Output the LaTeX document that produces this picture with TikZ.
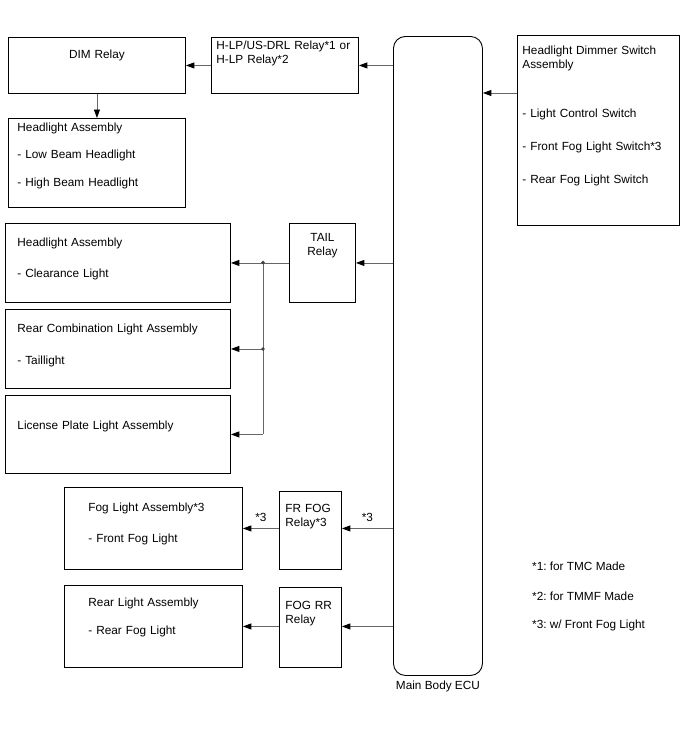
\documentclass[tikz,border=0pt]{standalone}
\usepackage{fontspec}
\setmainfont{Liberation Sans}
\usepackage{tikz}
\usetikzlibrary{arrows.meta,positioning,calc}
\frenchspacing

\begin{document}
\begin{tikzpicture}[
        x=1pt, y=-1pt,
        every node/.style={font=\fontsize{11.8}{14}\selectfont},
        blk/.style={draw, line width=0.9pt, anchor=north west, inner ysep=0pt, align=left},
        relay/.style={blk, inner xsep=0pt, align=center},
        arr/.style={draw=black!60, line width=0.9pt, -{Triangle[length=8.5pt, width=6pt, color=black]}},
        wire/.style={draw=black!60, line width=0.9pt},
        dot/.style={circle, fill=black!75, inner sep=0pt, minimum size=3.6pt},
        note/.style={anchor=west, inner sep=0pt}
    ]
        \useasboundingbox (0,0) rectangle (688,755);

        % ECU and switch
        \node[draw, line width=0.9pt, rounded corners=12pt, anchor=north west,
              minimum width=89pt, minimum height=639pt] (ecu) at (393,36) {};
        \node[below=2pt of ecu] (ecuname) {Main Body ECU};
        \node[blk, inner xsep=5pt, text width=152pt, text height=19pt, text depth=171pt] (sw) at (517,35)
            {Headlight Dimmer Switch\\Assembly\\[35pt]- Light Control Switch\\[19pt]- Front Fog Light Switch*3\\[19pt]- Rear Fog Light Switch};

        % head light
        \node[relay, text width=177pt, text height=21pt, text depth=35pt] (dim) at (8,37) {DIM Relay};
        \node[blk, inner xsep=5pt, text width=137pt, text height=12pt, text depth=44pt] (hlp) at (211,37)
            {H-LP/US-DRL Relay*1 or\\H-LP Relay*2};
        \node[blk, inner xsep=9pt, text width=159pt, text height=13pt, text depth=76pt] (ha1) at (8,118)
            {Headlight Assembly\\[13.5pt]- Low Beam Headlight\\[13.5pt]- High Beam Headlight};

        % tail light
        \node[relay, text width=66pt, text height=18pt, text depth=61pt] (tail) at (289,223) {TAIL\\Relay};
        \node[blk, inner xsep=12pt, text width=201pt, text height=23pt, text depth=56pt] (ha2) at (5,223)
            {Headlight Assembly\\[17pt]- Clearance Light};
        \node[blk, inner xsep=12pt, text width=201pt, text height=23pt, text depth=56pt] (rcl) at (5,309)
            {Rear Combination Light Assembly\\[18pt]- Taillight};
        \node[blk, inner xsep=12pt, text width=201pt, text height=34pt, text depth=44pt] (lic) at (5,395)
            {License Plate Light Assembly};

        % fog light
        \node[blk, inner xsep=24pt, text width=130pt, text height=24pt, text depth=58pt] (fog) at (64,487)
            {Fog Light Assembly*3\\[17pt]- Front Fog Light};
        \node[blk, inner xsep=6pt, text width=50pt, text height=21pt, text depth=57pt] (frf) at (279,491)
            {FR FOG\\Relay*3};
        \node[blk, inner xsep=24pt, text width=130pt, text height=21pt, text depth=61pt] (rla) at (64,585)
            {Rear Light Assembly\\[14pt]- Rear Fog Light};
        \node[blk, inner xsep=6pt, text width=50pt, text height=22pt, text depth=58pt] (frr) at (279,587)
            {FOG RR\\Relay};

        % notes
        \node[note] (n1) at (532,566) {*1: for TMC Made};
        \node[note] (n2) at (532,596) {*2: for TMMF Made};
        \node[note] (n3) at (532,625) {*3: w/ Front Fog Light};

        % connectors
        \draw[arr] (hlp.east -| ecu.west) -- (hlp.east);
        \draw[arr] (hlp) -- (dim);
        \draw[arr] (dim) -- (ha1);
        \coordinate (swout) at ([yshift=-58pt]sw.north west);
        \draw[arr] (swout) -- (swout -| ecu.east);

        \draw[arr] (tail.east -| ecu.west) -- (tail.east);
        \coordinate (j1) at (263,262.5);
        \coordinate (j2) at (j1 |- rcl.east);
        \coordinate (j3) at (j1 |- lic.east);
        \draw[arr] (tail.west) -- (ha2.east);
        \draw[wire] (j1) -- (j3);
        \draw[arr] (j2) -- (rcl.east);
        \draw[arr] (j3) -- (lic.east);
        \node[dot] at (j1) {};
        \node[dot] at (j2) {};

        \draw[arr] (fog.east -| ecu.west) -- node[above=3pt] {*3} (fog.east -| frf.east);
        \draw[arr] (fog.east -| frf.west) -- node[above=3pt] {*3} (fog.east);
        \draw[arr] (rla.east -| ecu.west) -- (rla.east -| frr.east);
        \draw[arr] (rla.east -| frr.west) -- (rla.east);
    \end{tikzpicture}
\end{document}
